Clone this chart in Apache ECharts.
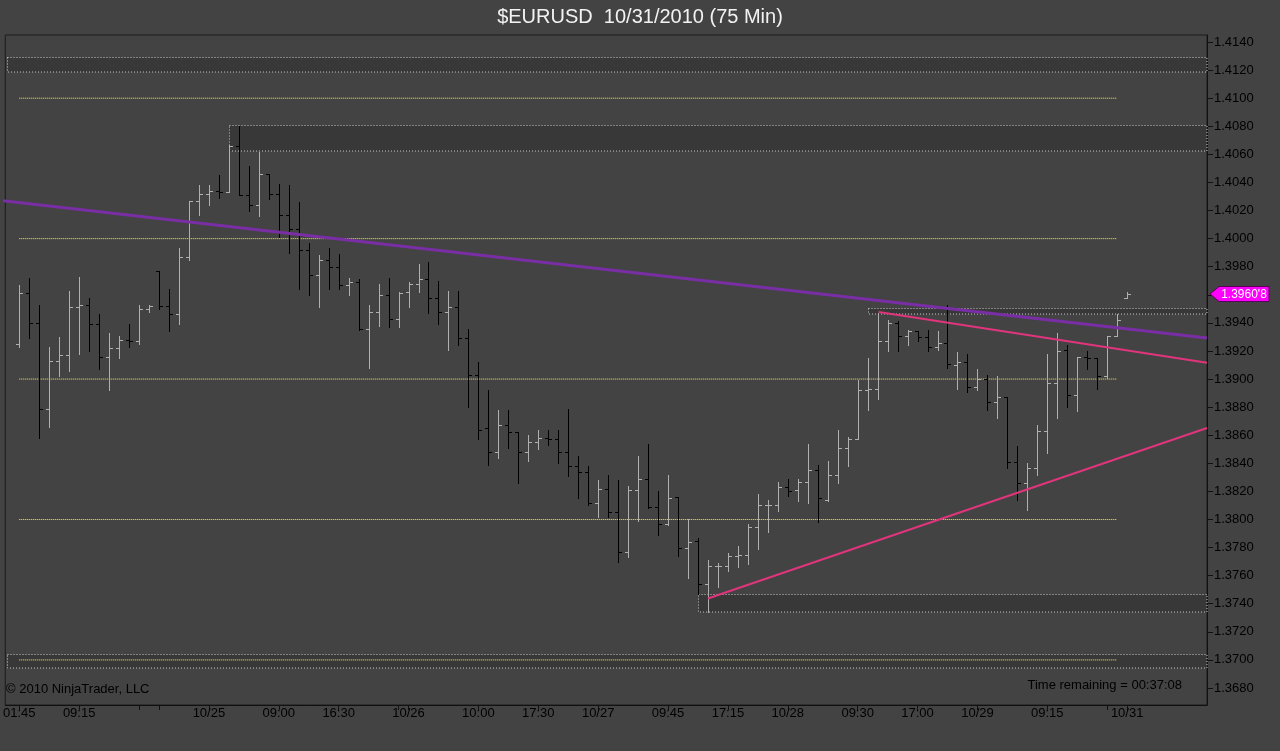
<!DOCTYPE html>
<html><head><meta charset="utf-8">
<script src="https://cdn.jsdelivr.net/npm/echarts@6/dist/echarts.min.js"></script>
<style>html,body{margin:0;padding:0;background:#434343;}#c{width:1280px;height:751px;}</style>
</head><body><div id="c"></div>
<script>
// ---- data ----
const tickIndex = [0, 6, 12, 14, 19, 26, 32, 38, 39, 46, 52, 58, 65, 71, 77, 84, 90, 96, 103, 109, 111];
const tickLabels = ['01:45','09:15','','','10/25','09:00','16:30','','10/26','10:00','17:30','10/27','09:45','17:15','10/28','09:30','17:00','10/29','09:15','','10/31'];
const yTicks = [1.3680,1.3700,1.3720,1.3740,1.3760,1.3780,1.3800,1.3820,1.3840,1.3860,1.3880,1.3900,1.3920,1.3940,1.3960,1.3980,1.4000,1.4020,1.4040,1.4060,1.4080,1.4100,1.4120,1.4140];

const opens = [1.3925,1.3961,1.3940,1.3879,1.3913,1.3917,1.3951,1.3953,1.3939,1.3916,1.3922,1.3928,1.3927,1.3950,1.3977,1.3952,1.3946,1.3987,1.4027,1.4032,
1.4034,1.4033,1.4066,1.4031,1.4024,1.4046,1.4032,1.4017,1.4007,1.3992,1.3974,1.3985,1.3980,1.3967,1.3969,1.3936,1.3948,1.3960,1.3943,1.3962,
1.3968,1.3971,1.3958,1.3948,1.3951,1.3929,1.3903,1.3865,1.3848,1.3867,1.3862,1.3848,1.3855,1.3858,1.3857,1.3848,1.3838,1.3834,1.3812,1.3822,
1.3805,1.3777,1.3821,1.3829,1.3809,1.3797,1.3816,1.3780,1.3785,1.3754,1.3767,1.3767,1.3774,1.3775,1.3795,1.3810,1.3810,1.3823,1.3821,1.3827,
1.3835,1.3814,1.3832,1.3851,1.3857,1.3892,1.3893,1.3927,1.3940,1.3931,1.3934,1.3930,1.3923,1.3926,1.3910,1.3912,1.3894,1.3900,1.3884,1.3887,
1.3841,1.3826,1.3837,1.3863,1.3897,1.3921,1.3889,1.3916,1.3915,1.3902,1.3931,1.3958];
const highs = [1.3967,1.3972,1.3953,1.3923,1.3930,1.3963,1.3973,1.3958,1.3946,1.3933,1.3931,1.3939,1.3953,1.3953,1.3977,1.3964,1.3993,1.4027,1.4038,1.4038,
1.4045,1.4067,1.4080,1.4052,1.4062,1.4046,1.4039,1.4038,1.4026,1.3997,1.3988,1.3993,1.3989,1.3972,1.3971,1.3953,1.3968,1.3972,1.3962,1.3969,
1.3982,1.3983,1.3970,1.3963,1.3963,1.3936,1.3912,1.3892,1.3878,1.3878,1.3862,1.3860,1.3864,1.3864,1.3864,1.3879,1.3845,1.3838,1.3828,1.3832,
1.3828,1.3824,1.3845,1.3854,1.3820,1.3832,1.3816,1.3800,1.3787,1.3771,1.3769,1.3776,1.3781,1.3797,1.3818,1.3814,1.3827,1.3829,1.3829,1.3854,
1.3839,1.3842,1.3864,1.3859,1.3899,1.3915,1.3947,1.3942,1.3941,1.3935,1.3934,1.3935,1.3934,1.3953,1.3919,1.3918,1.3907,1.3903,1.3902,1.3887,
1.3852,1.3840,1.3867,1.3918,1.3933,1.3924,1.3916,1.3920,1.3915,1.3931,1.3946,1.3962];
const lows = [1.3923,1.3929,1.3858,1.3866,1.3902,1.3906,1.3918,1.3920,1.3907,1.3892,1.3915,1.3923,1.3925,1.3948,1.3950,1.3934,1.3939,1.3985,1.4017,1.4024,
1.4029,1.4033,1.4031,1.4020,1.4016,1.4028,1.4001,1.3990,1.3964,1.3960,1.3951,1.3964,1.3964,1.3960,1.3935,1.3908,1.3938,1.3937,1.3937,1.3951,
1.3962,1.3947,1.3939,1.3921,1.3924,1.3880,1.3857,1.3839,1.3844,1.3851,1.3826,1.3842,1.3850,1.3853,1.3840,1.3831,1.3815,1.3810,1.3802,1.3802,
1.3770,1.3773,1.3799,1.3808,1.3789,1.3796,1.3774,1.3758,1.3747,1.3734,1.3752,1.3763,1.3766,1.3768,1.3779,1.3791,1.3806,1.3817,1.3813,1.3812,
1.3798,1.3813,1.3826,1.3838,1.3857,1.3878,1.3886,1.3920,1.3920,1.3924,1.3927,1.3920,1.3921,1.3908,1.3893,1.3891,1.3892,1.3878,1.3872,1.3837,
1.3814,1.3807,1.3832,1.3847,1.3872,1.3880,1.3877,1.3907,1.3893,1.3901,1.3931,1.3958];
const closes = [1.3961,1.3940,1.3879,1.3913,1.3917,1.3951,1.3953,1.3939,1.3916,1.3922,1.3928,1.3927,1.3950,1.3952,1.3952,1.3946,1.3987,1.4027,1.4032,1.4034,
1.4033,1.4066,1.4031,1.4024,1.4046,1.4032,1.4017,1.4007,1.3992,1.3974,1.3985,1.3980,1.3967,1.3969,1.3936,1.3948,1.3960,1.3943,1.3961,1.3968,
1.3971,1.3958,1.3948,1.3951,1.3929,1.3903,1.3864,1.3848,1.3867,1.3862,1.3848,1.3855,1.3858,1.3857,1.3848,1.3838,1.3834,1.3812,1.3822,1.3805,
1.3777,1.3821,1.3829,1.3809,1.3797,1.3815,1.3780,1.3784,1.3754,1.3767,1.3767,1.3774,1.3775,1.3795,1.3810,1.3810,1.3823,1.3820,1.3827,1.3835,
1.3815,1.3832,1.3851,1.3857,1.3892,1.3893,1.3927,1.3940,1.3931,1.3934,1.3930,1.3923,1.3926,1.3911,1.3912,1.3894,1.3900,1.3884,1.3887,1.3841,
1.3826,1.3837,1.3863,1.3897,1.3920,1.3889,1.3916,1.3915,1.3902,1.3931,1.3942,1.39608];

const levelValues = [1.4100, 1.4000, 1.3900, 1.3800, 1.3700];
const levelFrom = 0, levelTo = 110;

const zoneFrom = [-1.2, 21, 85, 68, -1.2];
const zoneTop = [1.41293, 1.40809, 1.39508, 1.37466, 1.37043];
const zoneBottom = [1.41184, 1.40624, 1.39461, 1.37342, 1.36939];
const zoneTo = 119;

const maLine = [[-1.7, 1.40271], [119, 1.39293]];
const trendDown = [[86.1, 1.39477], [119, 1.39116]];
const trendUp = [[69, 1.37437], [119, 1.38651]];
const lastPrice = 1.39608;
const lastPriceText = "1.3960'8";

// ---- chart ----
const labelMap = {};
tickIndex.forEach((v, i) => { labelMap[v] = tickLabels[i]; });
const labelIndex = tickIndex.filter((v, i) => tickLabels[i] !== '');

const FONT = "'Liberation Sans', Arial, sans-serif";
const chart = echarts.init(document.getElementById('c'), null, {renderer: 'canvas'});

const series = [];
series.push({
  type: 'custom', silent: true, z: 1,
  data: zoneFrom.map((x, i) => [x, zoneTo, zoneTop[i], zoneBottom[i]]),
  renderItem(params, api) {
    const a = api.coord([api.value(0), api.value(2)]);
    const b = api.coord([api.value(1), api.value(3)]);
    const x = Math.round(a[0]) + 0.5, y = Math.round(a[1]) + 0.5;
    return {type: 'rect', shape: {x: x, y: y, width: Math.round(b[0]) - x, height: Math.round(b[1]) - y},
      style: {fill: '#383838', stroke: '#c8c8c8', lineWidth: 1, lineDash: [1, 2]}};
  }
});
levelValues.forEach(v => {
  series.push({type: 'line', silent: true, z: 2, symbol: 'none', animation: false,
    data: [[levelFrom, v], [levelTo, v]],
    lineStyle: {color: '#fff060', width: 1, type: [1, 1]}});
});
series.push({
  type: 'custom', silent: true, z: 3,
  data: opens.map((o, i) => [i, o, highs[i], lows[i], closes[i]]),
  encode: {x: 0, y: [1, 2, 3, 4]},
  renderItem(params, api) {
    const i = api.value(0), o = api.value(1), h = api.value(2), l = api.value(3), c = api.value(4);
    const pH = api.coord([i, h]), pL = api.coord([i, l]), pO = api.coord([i, o]), pC = api.coord([i, c]);
    const x = Math.round(pH[0]) + 0.5;
    const yo = Math.round(pO[1]) + 0.5, yc = Math.round(pC[1]) + 0.5;
    const color = c >= o ? '#b0b0b0' : '#000000';
    const st = {stroke: color, lineWidth: 1};
    return {type: 'group', children: [
      {type: 'line', shape: {x1: x, y1: Math.round(pH[1]), x2: x, y2: Math.round(pL[1]) + 1}, style: st},
      {type: 'line', shape: {x1: x - 3.5, y1: yo, x2: x, y2: yo}, style: st},
      {type: 'line', shape: {x1: x, y1: yc, x2: x + 3.5, y2: yc}, style: st}
    ]};
  }
});
series.push({type: 'line', silent: true, z: 4, symbol: 'none', data: maLine,
  lineStyle: {color: '#7a2ea6', width: 3}});
series.push({type: 'line', silent: true, z: 5, symbol: 'none', data: trendDown,
  lineStyle: {color: '#e0357c', width: 2}});
series.push({type: 'line', silent: true, z: 5, symbol: 'none', data: trendUp,
  lineStyle: {color: '#e0357c', width: 2}});
series.push({
  type: 'custom', silent: true, z: 10, clip: false,
  data: [[119, lastPrice]],
  renderItem(params, api) {
    const p = api.coord([api.value(0), api.value(1)]);
    const x0 = p[0] + 3, y = Math.round(p[1]);
    return {type: 'group', children: [
      {type: 'polygon', shape: {points: [[x0, y], [x0 + 9, y - 7.5], [x0 + 59, y - 7.5], [x0 + 59, y + 7.5], [x0 + 9, y + 7.5]]},
        style: {fill: '#ff00ff', stroke: '#5a005a', lineWidth: 1}},
      {type: 'text', style: {x: x0 + 34, y: y + 0.5, text: lastPriceText, fill: '#ffffff', font: '12px ' + FONT, align: 'center', verticalAlign: 'middle'}}
    ]};
  }
});

chart.setOption({
  animation: false,
  backgroundColor: '#434343',
  grid: {left: 3, right: 73, top: 35, bottom: 46, show: true, borderColor: '#1c1c1c', borderWidth: 1, backgroundColor: 'transparent'},
  xAxis: {
    type: 'value', min: -1.4, max: 119,
    axisLine: {show: true, onZero: false, lineStyle: {color: '#111'}},
    axisTick: {show: true, customValues: tickIndex, length: 5, lineStyle: {color: '#111'}},
    axisLabel: {customValues: labelIndex, formatter: v => labelMap[v] || '', color: '#000', fontSize: 13, fontFamily: FONT, margin: 2},
    splitLine: {show: false}
  },
  yAxis: {
    type: 'value', position: 'right', min: 1.36679, max: 1.41450, scale: true,
    axisLine: {show: true, onZero: false, lineStyle: {color: '#111'}},
    axisTick: {show: true, customValues: yTicks, length: 6, lineStyle: {color: '#111'}},
    axisLabel: {customValues: yTicks, formatter: v => v.toFixed(4), color: '#000', fontSize: 13, fontFamily: FONT, margin: 7},
    splitLine: {show: false}
  },
  graphic: [
    {type: 'text', left: 'center', top: 7, style: {text: '$EURUSD  10/31/2010 (75 Min)', fill: '#f2f2f2', font: '20px ' + FONT}},
    {type: 'text', left: 6, top: 683, style: {text: '\u00a9 2010 NinjaTrader, LLC', fill: '#000', font: '13px ' + FONT}},
    {type: 'text', right: 98, top: 679, style: {text: 'Time remaining = 00:37:08', fill: '#000', font: '13px ' + FONT}}
  ],
  series: series
});
</script>
</body></html>
